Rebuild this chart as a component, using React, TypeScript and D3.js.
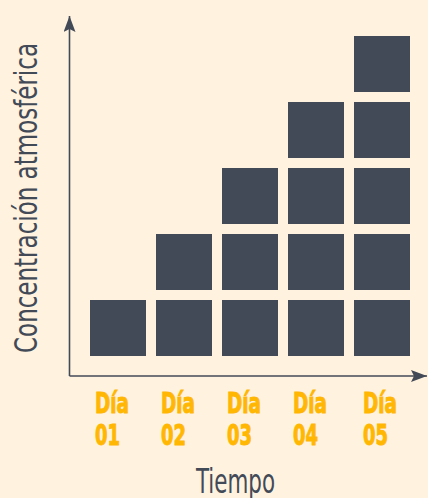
import React from 'react'
import * as d3 from 'd3'

// chart data
const days = ['01', '02', '03', '04', '05']
const counts = [1, 2, 3, 4, 5]
const dayPrefix = 'Día'
const xTitle = 'Tiempo'
const yTitle = 'Concentración atmosférica'

const W = 428
const H = 498
const BG = '#fff3e0'
const INK = '#434a57'
const ORANGE = '#ffb703'
const FONT = "'Liberation Sans Narrow', 'DejaVu Sans Condensed', 'Roboto', sans-serif"

export default function App() {
  const ref = React.useRef<SVGSVGElement>(null)

  React.useEffect(() => {
    const svg = d3.select(ref.current!)
    svg.selectAll('*').remove()

    const x = d3.scaleBand<string>().domain(days).range([90, 410]).paddingInner(10 / 66)
    const y = d3.scaleLinear().domain([0, 5]).range([366, 36])
    const gap = 10

    svg.append('rect').attr('width', W).attr('height', H).attr('fill', BG)

    // arrow marker
    svg
      .append('defs')
      .append('marker')
      .attr('id', 'arrow')
      .attr('viewBox', '0 0 16 12')
      .attr('refX', 16)
      .attr('refY', 6)
      .attr('markerWidth', 16)
      .attr('markerHeight', 12)
      .attr('markerUnits', 'userSpaceOnUse')
      .attr('orient', 'auto')
      .append('path')
      .attr('d', 'M0,0 L16,6 L0,12 L3,6 Z')
      .attr('fill', INK)

    // squares: one stack per day
    const cells = days.flatMap((d, i) => d3.range(counts[i]).map(k => ({ day: d, k })))
    svg
      .append('g')
      .selectAll('rect')
      .data(cells)
      .join('rect')
      .attr('x', d => x(d.day)!)
      .attr('y', d => y(d.k + 1))
      .attr('width', x.bandwidth())
      .attr('height', y(0) - y(1) - gap)
      .attr('fill', INK)

    // axes
    const x0 = 69.5
    const y0 = 376
    svg
      .append('line')
      .attr('x1', x0).attr('y1', y0).attr('x2', x0).attr('y2', 16)
      .attr('stroke', INK).attr('stroke-width', 1.6)
      .attr('marker-end', 'url(#arrow)')
    svg
      .append('line')
      .attr('x1', x0).attr('y1', y0).attr('x2', 427).attr('y2', y0)
      .attr('stroke', INK).attr('stroke-width', 1.6)
      .attr('marker-end', 'url(#arrow)')

    // day labels
    const lab = svg
      .append('g')
      .attr('fill', ORANGE)
      .attr('stroke', ORANGE)
      .attr('stroke-width', 1)
      .style('font-family', FONT)
      .style('font-weight', 'bold')
    days.forEach((d, i) => {
      const lx = x(d)! + (i === 4 ? 9 : 5)
      lab.append('text').attr('x', lx).attr('y', 413).style('font-size', '29px')
        .attr('textLength', 34).attr('lengthAdjust', 'spacingAndGlyphs').text(dayPrefix)
      lab.append('text').attr('x', lx).attr('y', 445).style('font-size', '29px')
        .attr('textLength', 25).attr('lengthAdjust', 'spacingAndGlyphs').text(d)
    })

    // titles
    svg
      .append('text')
      .attr('x', 196).attr('y', 493)
      .attr('fill', INK)
      .style('font-family', FONT)
      .style('font-size', '34px')
      .attr('textLength', 79).attr('lengthAdjust', 'spacingAndGlyphs')
      .text(xTitle)

    svg
      .append('text')
      .attr('transform', 'translate(37,198) rotate(-90)')
      .attr('text-anchor', 'middle')
      .attr('fill', INK)
      .style('font-family', FONT)
      .style('font-size', '32px')
      .attr('textLength', 310).attr('lengthAdjust', 'spacingAndGlyphs')
      .text(yTitle)
  }, [])

  return (
    <svg
      ref={ref}
      width={W}
      height={H}
      style={{ position: 'absolute', left: 0, top: 0, display: 'block' }}
    />
  )
}
